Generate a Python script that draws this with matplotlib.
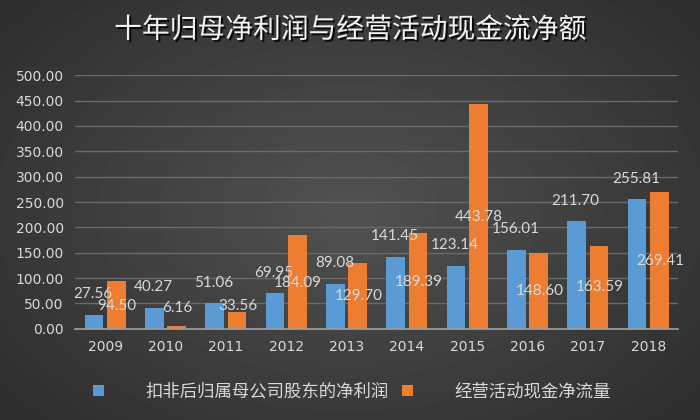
import matplotlib.pyplot as plt
import matplotlib.patheffects as pe
from matplotlib.patches import Patch
import numpy as np

plt.rcParams['font.family'] = ['Lato', 'Noto Sans CJK SC', 'DejaVu Sans']

years = ['2009', '2010', '2011', '2012', '2013', '2014', '2015', '2016', '2017', '2018']
net_profit = [27.56, 40.27, 51.06, 69.95, 89.08, 141.45, 123.14, 156.01, 211.70, 255.81]
cash_flow = [94.50, 6.16, 33.56, 184.09, 129.70, 189.39, 443.78, 148.60, 163.59, 269.41]
series_names = ['扣非后归属母公司股东的净利润', '经营活动现金净流量']
title = '十年归母净利润与经营活动现金流净额'

# label anchors (data units)
net_label_y = [69, 83, 90, 110, 129, 184, 166, 197, 252, 296]
cash_label_y = [45, 41, 45, 90, 65, 92, 220, 74, 83, 134]

BLUE = '#5b9bd5'
ORANGE = '#ed7d31'
TXT = '#d9d9d9'

fig = plt.figure(figsize=(7, 4.2), dpi=100)

# radial gradient background
bg = fig.add_axes([0, 0, 1, 1], zorder=-10)
yy, xx = np.mgrid[-1:1:420j, -1:1:700j]
r = np.sqrt(xx ** 2 + (yy * 0.9) ** 2)
bg.imshow(0.32 - 0.14 * np.clip(r / 1.3, 0, 1), cmap='gray', vmin=0, vmax=1,
          aspect='auto', extent=[0, 1, 0, 1])
bg.axis('off')

ax = fig.add_axes([0.107, 0.217, 0.862, 0.604])
ax.set_facecolor('none')
x = np.arange(len(years))
w = 0.31
ax.bar(x - w / 2 - 0.03, net_profit, w, color=BLUE, zorder=3)
ax.bar(x + w / 2 + 0.03, cash_flow, w, color=ORANGE, zorder=3)

for i in range(len(years)):
    ax.text(x[i] - 0.2, net_label_y[i], f'{net_profit[i]:.2f}', color=TXT,
            fontsize=11, ha='center', va='center', zorder=5)
    ax.text(x[i] + 0.2, cash_label_y[i], f'{cash_flow[i]:.2f}', color=TXT,
            fontsize=11, ha='center', va='center', zorder=5)

ax.set_xlim(-0.5, 9.5)
ax.set_ylim(0, 500)
ax.set_yticks(np.arange(0, 501, 50))
ax.set_yticklabels([f'{v:.2f}' for v in np.arange(0, 501, 50)], family='DejaVu Sans')
ax.set_xticks(x)
ax.set_xticklabels(years, family='DejaVu Sans')
ax.tick_params(colors=TXT, labelsize=10, length=0, pad=8)
ax.grid(axis='y', color='#6a6a6a', linewidth=1, zorder=0)
for s in ['top', 'right', 'left']:
    ax.spines[s].set_visible(False)
ax.spines['bottom'].set_color('#a0a0a0')
ax.spines['bottom'].set_linewidth(1.2)
ax.spines['bottom'].set_zorder(4)

fig.text(0.5, 0.929, title, color='#f2f2f2', fontsize=20, ha='center', va='center',
         family=['Noto Sans CJK SC'],
         path_effects=[pe.withSimplePatchShadow(offset=(1.5, -1.5), shadow_rgbFace='black', alpha=0.8)])

handles = [Patch(facecolor=BLUE), Patch(facecolor=ORANGE)]
leg = fig.legend(handles, series_names, loc='center left', bbox_to_anchor=(0.133, 0.067),
                 ncol=2, frameon=False, handlelength=0.63, handleheight=0.63,
                 handletextpad=2.4, columnspacing=0.75, borderpad=0, borderaxespad=0,
                 prop={'family': ['Noto Sans CJK SC'], 'size': 12.5})
for t in leg.get_texts():
    t.set_color(TXT)

fig.savefig('out.png', dpi=100)
